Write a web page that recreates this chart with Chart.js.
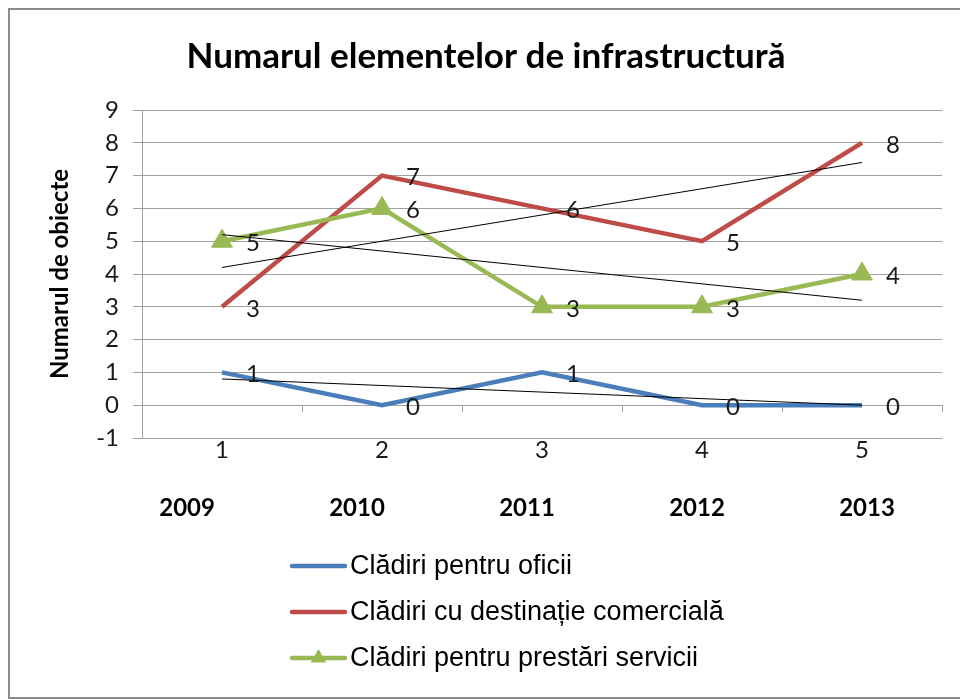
<!DOCTYPE html>
<html>
<head>
<meta charset="utf-8">
<script src="https://cdn.jsdelivr.net/npm/chart.js@4.4.1/dist/chart.umd.min.js"></script>
<style>
  html, body { margin: 0; padding: 0; background: #fff; }
</style>
</head>
<body>
<canvas id="infraChart" width="960" height="700"></canvas>
<script>
// values
const categories = ['1', '2', '3', '4', '5'];
const years = ['2009', '2010', '2011', '2012', '2013'];
const yTicks = [-1, 0, 1, 2, 3, 4, 5, 6, 7, 8, 9];
const seriesNames = ['Clădiri pentru oficii', 'Clădiri cu destinație comercială', 'Clădiri pentru prestări servicii'];
const oficii = [1, 0, 1, 0, 0];
const comerciala = [3, 7, 6, 5, 8];
const servicii = [5, 6, 3, 3, 4];

const BLUE = '#4a7ebb';
const RED = '#be4b48';
const GREEN = '#98b954';
const GRID = '#a0a0a0';

// linear trendline (least squares), same as the Excel one in the original
function trend(vals) {
  const n = vals.length;
  const mx = (n + 1) / 2;
  const my = vals.reduce((a, b) => a + b, 0) / n;
  let sxy = 0, sxx = 0;
  vals.forEach((v, i) => {
    sxy += (i + 1 - mx) * (v - my);
    sxx += (i + 1 - mx) * (i + 1 - mx);
  });
  const slope = sxy / sxx;
  return vals.map((_, i) => my + slope * (i + 1 - mx));
}

function trendSet(vals) {
  return {
    data: trend(vals),
    borderColor: '#000',
    borderWidth: 1,
    pointRadius: 0,
    tension: 0,
    order: 0,
    isTrend: true
  };
}

const framePlugin = {
  id: 'frame',
  beforeDraw(chart) {
    const c = chart.ctx;
    c.save();
    c.fillStyle = '#fff';
    c.fillRect(0, 0, chart.width, chart.height);
    c.strokeStyle = '#8c8c8c';
    c.lineWidth = 2;
    c.strokeRect(9, 9, chart.width + 10, chart.height - 11);
    c.restore();
  }
};

// category axis sits on the 0 line in the original, with small tick marks
const zeroAxisPlugin = {
  id: 'zeroAxis',
  beforeDatasetsDraw(chart) {
    const x = chart.scales.x;
    const y0 = chart.scales.y.getPixelForValue(0);
    const c = chart.ctx;
    c.save();
    c.strokeStyle = GRID;
    c.lineWidth = 1;
    c.beginPath();
    for (let i = 1; i <= categories.length; i++) {
      const px = Math.round(x.getPixelForValue(i - 0.5)) + 0.5;
      c.moveTo(px, y0);
      c.lineTo(px, y0 + 7);
    }
    c.stroke();
    c.restore();
  }
};

const valueLabelPlugin = {
  id: 'valueLabels',
  afterDatasetsDraw(chart) {
    const c = chart.ctx;
    c.save();
    c.font = '24px Lato';
    c.fillStyle = '#1a1a1a';
    c.textAlign = 'left';
    c.textBaseline = 'middle';
    chart.data.datasets.forEach((ds, di) => {
      if (ds.isTrend) return;
      chart.getDatasetMeta(di).data.forEach((pt, i) => {
        c.fillText(String(ds.data[i]), pt.x + 24, pt.y + 2);
      });
    });
    c.restore();
  }
};

// legend stacked one item per row under the axis, as in the original
const stackedLegendPlugin = {
  id: 'stackedLegend',
  afterDraw(chart) {
    const c = chart.ctx;
    const x0 = 292, x1 = 345;
    let y = 566;
    c.save();
    c.font = '27px "Liberation Sans"';
    c.textBaseline = 'middle';
    c.textAlign = 'left';
    chart.data.datasets.forEach(ds => {
      if (ds.isTrend) return;
      c.strokeStyle = ds.borderColor;
      c.lineWidth = 4.5;
      c.lineCap = 'round';
      c.beginPath();
      c.moveTo(x0, y);
      c.lineTo(x1, y);
      c.stroke();
      if (ds.pointStyle === 'triangle') {
        const mx = (x0 + x1) / 2, r = 9;
        c.fillStyle = ds.borderColor;
        c.beginPath();
        c.moveTo(mx, y - r);
        c.lineTo(mx + r * 0.87, y + r * 0.5);
        c.lineTo(mx - r * 0.87, y + r * 0.5);
        c.closePath();
        c.fill();
      }
      c.fillStyle = '#000';
      c.fillText(ds.label, x1 + 5, y + 1);
      y += 46;
    });
    c.restore();
  }
};

const ctx = document.getElementById('infraChart').getContext('2d');
new Chart(ctx, {
  type: 'line',
  data: {
    labels: categories,
    datasets: [
      {
        label: seriesNames[0],
        data: oficii,
        borderColor: BLUE,
        backgroundColor: BLUE,
        borderWidth: 4.5,
        pointRadius: 0,
        order: 3
      },
      {
        label: seriesNames[1],
        data: comerciala,
        borderColor: RED,
        backgroundColor: RED,
        borderWidth: 4.5,
        pointRadius: 0,
        order: 2
      },
      {
        label: seriesNames[2],
        data: servicii,
        borderColor: GREEN,
        backgroundColor: GREEN,
        borderWidth: 4.5,
        pointStyle: 'triangle',
        pointRadius: 12,
        pointBorderWidth: 1,
        order: 1
      },
      trendSet(oficii),
      trendSet(comerciala),
      trendSet(servicii)
    ]
  },
  options: {
    responsive: false,
    animation: false,
    layout: {
      padding: { left: 30, right: 18, top: 0, bottom: 170 }
    },
    plugins: {
      legend: { display: false },
      tooltip: { enabled: false },
      title: {
        display: true,
        text: 'Numarul elementelor de infrastructură',
        color: '#000',
        font: { family: 'Lato', size: 35, weight: 'bold' },
        padding: { top: 36, bottom: 32 }
      }
    },
    scales: {
      x: {
        type: 'category',
        offset: true,
        weight: 0,
        grid: { display: false },
        border: { display: false },
        ticks: {
          color: '#1a1a1a',
          font: { family: 'Lato', size: 24 },
          padding: -10,
          maxRotation: 0
        },
        afterFit(scale) { scale.height = 40; }
      },
      // second row of labels (years), drawn a bit off the category centres like the original
      xYears: {
        type: 'linear',
        axis: 'x',
        position: 'bottom',
        weight: 1,
        min: -0.265,
        max: 4.441,
        grid: { display: false },
        border: { display: false },
        afterBuildTicks(scale) {
          scale.ticks = years.map((_, i) => ({ value: i }));
        },
        ticks: {
          color: '#000',
          font: { family: 'Lato', size: 24, weight: 'bold' },
          padding: 8,
          maxRotation: 0,
          callback: v => years[v]
        },
        afterFit(scale) { scale.height = 52; }
      },
      y: {
        min: yTicks[0],
        max: yTicks[yTicks.length - 1],
        afterBuildTicks(scale) {
          scale.ticks = yTicks.map(v => ({ value: v }));
        },
        grid: { color: GRID, lineWidth: 1, tickLength: 9 },
        border: { color: GRID },
        ticks: {
          color: '#1a1a1a',
          font: { family: 'Lato', size: 24 },
          padding: 14
        },
        title: {
          display: true,
          text: 'Numarul de obiecte',
          color: '#000',
          font: { family: 'Lato', size: 24, weight: 'bold' },
          padding: { top: 16 }
        },
        afterFit(scale) { scale.width = 112; }
      }
    }
  },
  plugins: [framePlugin, zeroAxisPlugin, valueLabelPlugin, stackedLegendPlugin]
});
</script>
</body>
</html>
